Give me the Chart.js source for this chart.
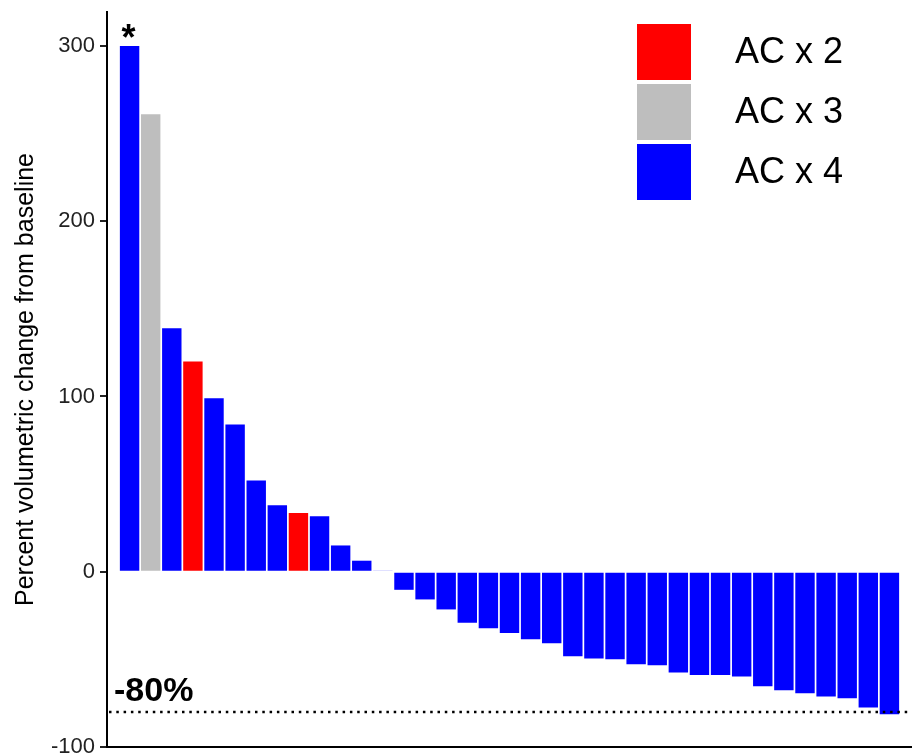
<!DOCTYPE html>
<html>
<head>
    <title>Percent volumetric change</title>
    <script src="https://cdn.jsdelivr.net/npm/chart.js"></script>
    <style>
        body { margin: 0; background: #fff; }
    </style>
</head>
<body>
    <canvas id="waterfall-chart" width="912" height="755"></canvas>

    <script>
        // one value per patient, sorted as in the figure
        const changes = [300, 261, 139, 120, 99, 84, 52, 38, 33.5, 31.6, 15, 6.3, 0.5,
            -10.3, -15.8, -21.5, -29.1, -32.2, -35, -38.5, -40.8, -48.2, -49.5, -49.9,
            -52.8, -53.3, -57.5, -58.9, -58.9, -59.8, -65.3, -67.6, -69.3, -71.2, -72.2,
            -77.5, -81.3];
        const cycles = [4, 3, 4, 2, 4, 4, 4, 4, 2, 4, 4, 4, 4,
            4, 4, 4, 4, 4, 4, 4, 4, 4, 4, 4,
            4, 4, 4, 4, 4, 4, 4, 4, 4, 4, 4,
            4, 4];
        const groupLabels = ['AC x 2', 'AC x 3', 'AC x 4'];
        const groupCycles = [2, 3, 4];
        const groupColors = ['#ff0000', '#bebebe', '#0000ff'];
        const yTicks = [-100, 0, 100, 200, 300];
        const threshold = -80;

        const fontFamily = "'Liberation Sans', Arial, Helvetica, sans-serif";
        Chart.defaults.font.family = fontFamily;

        const points = changes.map((v, i) => ({ x: i + 1, y: v }));
        const barColors = cycles.map(c => groupColors[groupCycles.indexOf(c)]);

        const extras = {
            id: 'extras',
            afterDatasetsDraw(chart) {
                const ctx = chart.ctx;
                const area = chart.chartArea;
                const y = chart.scales.y.getPixelForValue(threshold);

                // dotted -80% line
                ctx.save();
                ctx.strokeStyle = '#000';
                ctx.lineWidth = 2.5;
                ctx.setLineDash([2.5, 4.8]);
                ctx.beginPath();
                ctx.moveTo(area.left + 2, y);
                ctx.lineTo(area.right, y);
                ctx.stroke();
                ctx.setLineDash([]);

                ctx.fillStyle = '#000';
                ctx.font = 'bold 34px ' + fontFamily;
                ctx.textAlign = 'left';
                ctx.textBaseline = 'alphabetic';
                ctx.fillText('-80%', area.left + 7, y - 11);

                // asterisk over the first bar
                const first = chart.getDatasetMeta(0).data[0];
                ctx.font = 'bold 36px ' + fontFamily;
                ctx.textAlign = 'center';
                ctx.fillText('*', first.x - 1, first.y + 4);

                // legend
                ctx.font = '36px ' + fontFamily;
                ctx.textAlign = 'left';
                ctx.textBaseline = 'middle';
                groupLabels.forEach((label, i) => {
                    const top = 24 + i * 60;
                    ctx.fillStyle = groupColors[i];
                    ctx.fillRect(637, top, 54, 56);
                    ctx.fillStyle = '#000';
                    ctx.fillText(label, 735, top + 29);
                });
                ctx.restore();
            }
        };

        const ctx = document.getElementById('waterfall-chart').getContext('2d');
        const chart = new Chart(ctx, {
            type: 'bar',
            data: {
                datasets: [{
                    label: 'Percent volumetric change',
                    data: points,
                    backgroundColor: barColors,
                    borderWidth: 0,
                    barPercentage: 1,
                    categoryPercentage: 0.92
                }]
            },
            options: {
                responsive: false,
                animation: false,
                layout: { padding: { top: 12, left: 0, right: 0, bottom: 0 } },
                plugins: {
                    legend: { display: false },
                    tooltip: { enabled: false }
                },
                scales: {
                    x: {
                        type: 'linear',
                        offset: false,
                        min: -0.07,
                        max: 38.07,
                        ticks: { display: false },
                        grid: { display: false },
                        border: { display: true, color: '#000', width: 2 },
                        afterFit(scale) { scale.height = 8; scale.paddingLeft = 0; scale.paddingRight = 0; }
                    },
                    y: {
                        min: -100,
                        max: 319.4,
                        afterBuildTicks(scale) { scale.ticks = yTicks.map(v => ({ value: v })); },
                        ticks: { color: '#222', font: { size: 22 }, padding: 5 },
                        grid: { drawOnChartArea: false, drawTicks: true, tickLength: 7, color: '#222', lineWidth: 2 },
                        border: { display: true, color: '#000', width: 2 },
                        title: {
                            display: true,
                            text: 'Percent volumetric change from baseline',
                            color: '#000',
                            font: { size: 25 },
                            padding: { top: 11, bottom: 0 }
                        },
                        afterFit(scale) { scale.width = 107; scale.paddingTop = 0; scale.paddingBottom = 0; }
                    }
                }
            },
            plugins: [extras]
        });
    </script>
</body>
</html>
